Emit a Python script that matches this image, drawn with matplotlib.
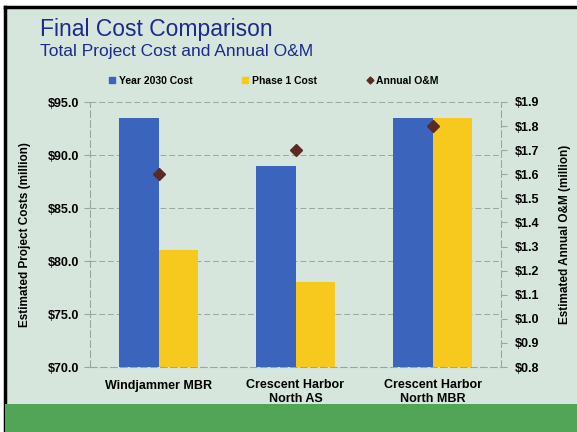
import matplotlib
matplotlib.use("Agg")
import matplotlib.pyplot as plt
import numpy as np
from matplotlib.patches import Rectangle
from matplotlib.lines import Line2D

# data
projects = ["Windjammer MBR", "Crescent Harbor\nNorth AS", "Crescent Harbor\nNorth MBR"]
cost_2030 = [93.5, 89.0, 93.5]
cost_phase1 = [81.0, 78.0, 93.5]
annual_om = [1.6, 1.7, 1.8]
left_ticks = [70, 75, 80, 85, 90, 95]
right_ticks = [0.8, 0.9, 1.0, 1.1, 1.2, 1.3, 1.4, 1.5, 1.6, 1.7, 1.8, 1.9]

blue = "#3b64bd"
yellow = "#f7c81e"
diamond = "#5a2b22"
navy = "#1c2a8c"
panel = "#d6e6dc"
gridc = "#98a89e"

plt.rcParams['font.family'] = ['Liberation Sans', 'DejaVu Sans']

fig = plt.figure(figsize=(5.77, 4.32), dpi=100)
fig.patch.set_facecolor("white")

# slide background, border and green footer
fig.patches.append(Rectangle((5/577, 0), 1, 1 - 7/432, transform=fig.transFigure,
                             facecolor=panel, edgecolor="none", zorder=-2))
fig.patches.append(Rectangle((5/577, 0), 1, 28/432, transform=fig.transFigure,
                             facecolor="#52a556", edgecolor="none", zorder=-1))
fig.add_artist(Line2D([5/577, 5/577], [0, 1 - 7/432], color="black", lw=2.5, zorder=-1))
fig.add_artist(Line2D([5/577, 1], [1 - 7/432, 1 - 7/432], color="black", lw=2.5, zorder=-1))

fig.text(40/577, 1 - 36/432, "Final Cost Comparison", color=navy, fontsize=16.5)
fig.text(40/577, 1 - 56/432, "Total Project Cost and Annual O&M", color=navy, fontsize=12.5)

ax = fig.add_axes([90/577, 1 - 367/432, 411/577, 265/432])
ax.set_facecolor("none")
x = np.arange(len(projects))
w = 0.285
ax.bar(x - w/2, cost_2030, w, color=blue, zorder=3, label="Year 2030 Cost")
ax.bar(x + w/2, cost_phase1, w, color=yellow, zorder=3, label="Phase 1 Cost")
ax.set_ylim(70, 95)
ax.set_xlim(-0.5, 2.5)
ax.set_yticks(left_ticks)
ax.set_yticklabels(["$%.1f" % v for v in left_ticks], fontsize=9, fontweight="bold")
ax.set_xticks(x)
ax.set_xticklabels(projects, fontsize=9, fontweight="bold", linespacing=1.15)
ax.tick_params(axis="x", length=0, pad=9)
ax.tick_params(axis="y", length=4, color=gridc, pad=4)
ax.yaxis.grid(True, color=gridc, linestyle=(0, (6, 3)), lw=0.7)
ax.set_axisbelow(True)
for side in ["top", "right"]:
    ax.spines[side].set_visible(False)
for side in ["left", "bottom"]:
    ax.spines[side].set_color(gridc)
    ax.spines[side].set_linestyle((0, (6, 3)))
ax.set_ylabel("Estimated Project Costs (million)", fontsize=8.5, fontweight="bold", labelpad=12)

ax2 = ax.twinx()
ax2.plot(x, annual_om, "D", color=diamond, markersize=6, zorder=5, label="Annual O&M")
ax2.set_ylim(0.8, 1.9)
ax2.set_yticks(right_ticks)
ax2.set_yticklabels(["$%.1f" % v for v in right_ticks], fontsize=9, fontweight="bold")
ax2.tick_params(axis="y", length=4, color=gridc, pad=6)
for side in ["top", "left", "bottom"]:
    ax2.spines[side].set_visible(False)
ax2.spines["right"].set_color(gridc)
ax2.spines["right"].set_linestyle((0, (6, 3)))
ax2.set_ylabel("Estimated Annual O&M (million)", fontsize=8.5, fontweight="bold", labelpad=14)

handles = [Line2D([], [], marker="s", ls="none", color=blue, markersize=4),
           Line2D([], [], marker="s", ls="none", color=yellow, markersize=4),
           Line2D([], [], marker="D", ls="none", color=diamond, markersize=3.5)]
fig.legend(handles, ["Year 2030 Cost", "Phase 1 Cost", "Annual O&M"], ncol=3,
           loc="center", bbox_to_anchor=(0.473, 1 - 81/432), frameon=False,
           prop={"size": 7.5, "weight": "bold"}, handletextpad=0.1, columnspacing=4.6,
           handlelength=1)

fig.savefig("out.png", dpi=100)
